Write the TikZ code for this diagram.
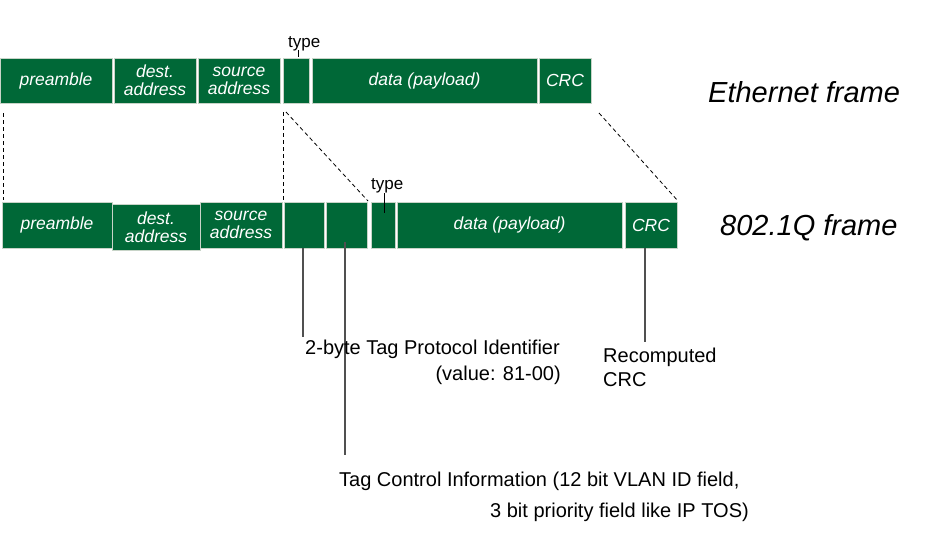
\documentclass[tikz,border=0pt]{standalone}
\usepackage{fontspec}
\setmainfont{Liberation Sans}
\definecolor{frgreen}{HTML}{006837}
\definecolor{frborder}{HTML}{C8D4C8}
\definecolor{linegray}{HTML}{505050}
\begin{document}
\begin{tikzpicture}[x=1pt,y=-1pt,
  fbox/.style={fill=frgreen,draw=frborder,line width=0.8pt,text=white,
    font=\itshape\fontsize{17.5}{18}\selectfont,align=center,inner sep=0pt,outer sep=0pt},
  note/.style={font=\fontsize{20}{24}\selectfont,inner sep=0pt,text=black},
  title/.style={font=\itshape\fontsize{29}{32}\selectfont,inner sep=0pt,text=black},
  typelbl/.style={font=\fontsize{17}{18}\selectfont,inner sep=0pt},
  dashline/.style={draw=black,line width=0.8pt,dash pattern=on 4pt off 3pt},
  tick/.style={draw=black,line width=1pt},
  lead/.style={draw=linegray,line width=1.2pt}]
\useasboundingbox (0,0) rectangle (926,541);
% top frame
\node[fbox,minimum width=112pt,minimum height=45pt] (pre1) at (56,80.5) {preamble};
\node[fbox,minimum width=82pt,minimum height=45pt] (dst1) at (155,80.5) {dest.\\address};
\node[fbox,minimum width=82pt,minimum height=45pt] (src1) at (239,80.5) {source\\address};
\node[fbox,minimum width=26pt,minimum height=45pt] (typ1) at (296,80.5) {};
\node[fbox,minimum width=225pt,minimum height=45pt] (dat1) at (424.5,80.5) {data (payload)};
\node[fbox,minimum width=52pt,minimum height=45pt] (crc1) at (565,80.5) {CRC};
% bottom frame
\node[fbox,minimum width=110pt,minimum height=46pt] (pre2) at (57,225) {preamble};
\node[fbox,minimum width=88pt,minimum height=46pt] (dst2) at (156,227) {dest.\\address};
\node[fbox,minimum width=82pt,minimum height=46pt] (src2) at (241,225) {source\\address};
\node[fbox,minimum width=40pt,minimum height=46pt] (tpid) at (304,225) {};
\node[fbox,minimum width=41pt,minimum height=46pt] (tci) at (346.5,225) {};
\node[fbox,minimum width=24pt,minimum height=46pt] (typ2) at (383,225) {};
\node[fbox,minimum width=225pt,minimum height=46pt] (dat2) at (509.5,225) {data (payload)};
\node[fbox,minimum width=52pt,minimum height=46pt] (crc2) at (651,225) {CRC};
% titles
\node[title,anchor=base west] (t1) at (708,102) {Ethernet frame};
\node[title,anchor=base west] (t2) at (720,235) {802.1Q frame};
% type labels
\node[typelbl,anchor=base west] (ty1) at (288,47) {type};
\node[typelbl,anchor=base west] (ty2) at (371,189) {type};
\coordinate (ty1t) at (298,50);
\coordinate (ty1b) at (298,57);
\coordinate (ty2t) at (384,193);
\coordinate (ty2b) at (384,213);
\draw[tick] (ty1t) -- (ty1b);
\draw[tick] (ty2t) -- (ty2b);
% dashed correspondence lines
\coordinate (dA1) at (3,113);   \coordinate (dA2) at (3,200);
\coordinate (dB1) at (283,112); \coordinate (dB2) at (283,200);
\coordinate (dC1) at (286,112); \coordinate (dC2) at (368,201);
\coordinate (dD1) at (599,113); \coordinate (dD2) at (678,201);
\draw[dashline] (dA1) -- (dA2);
\draw[dashline] (dB1) -- (dB2);
\draw[dashline] (dC1) -- (dC2);
\draw[dashline] (dD1) -- (dD2);
% leader lines
\coordinate (lA) at (303,337);
\coordinate (lB) at (345,455);
\coordinate (lC) at (645,342);
\draw[lead] (tpid.south -| lA) -- (lA);
\draw[lead] ([yshift=6pt]tci.south -| lB) -- (lB);
\draw[lead] (crc2.south -| lC) -- (lC);
% notes
\node[note,anchor=base east] (n1a) at (560,354) {2-byte Tag Protocol Identifier};
\node[note,anchor=base east] (n1b) at (561,380) {(value: 81-00)};
\node[note,anchor=base west] (n2a) at (603,362) {Recomputed};
\node[note,anchor=base west] (n2b) at (603,386) {CRC};
\node[note,anchor=base west] (n3a) at (339,486) {Tag Control Information (12 bit VLAN ID field,};
\node[note,anchor=base east] (n3b) at (749,517) {3 bit priority field like IP TOS)};
\end{tikzpicture}
\end{document}
